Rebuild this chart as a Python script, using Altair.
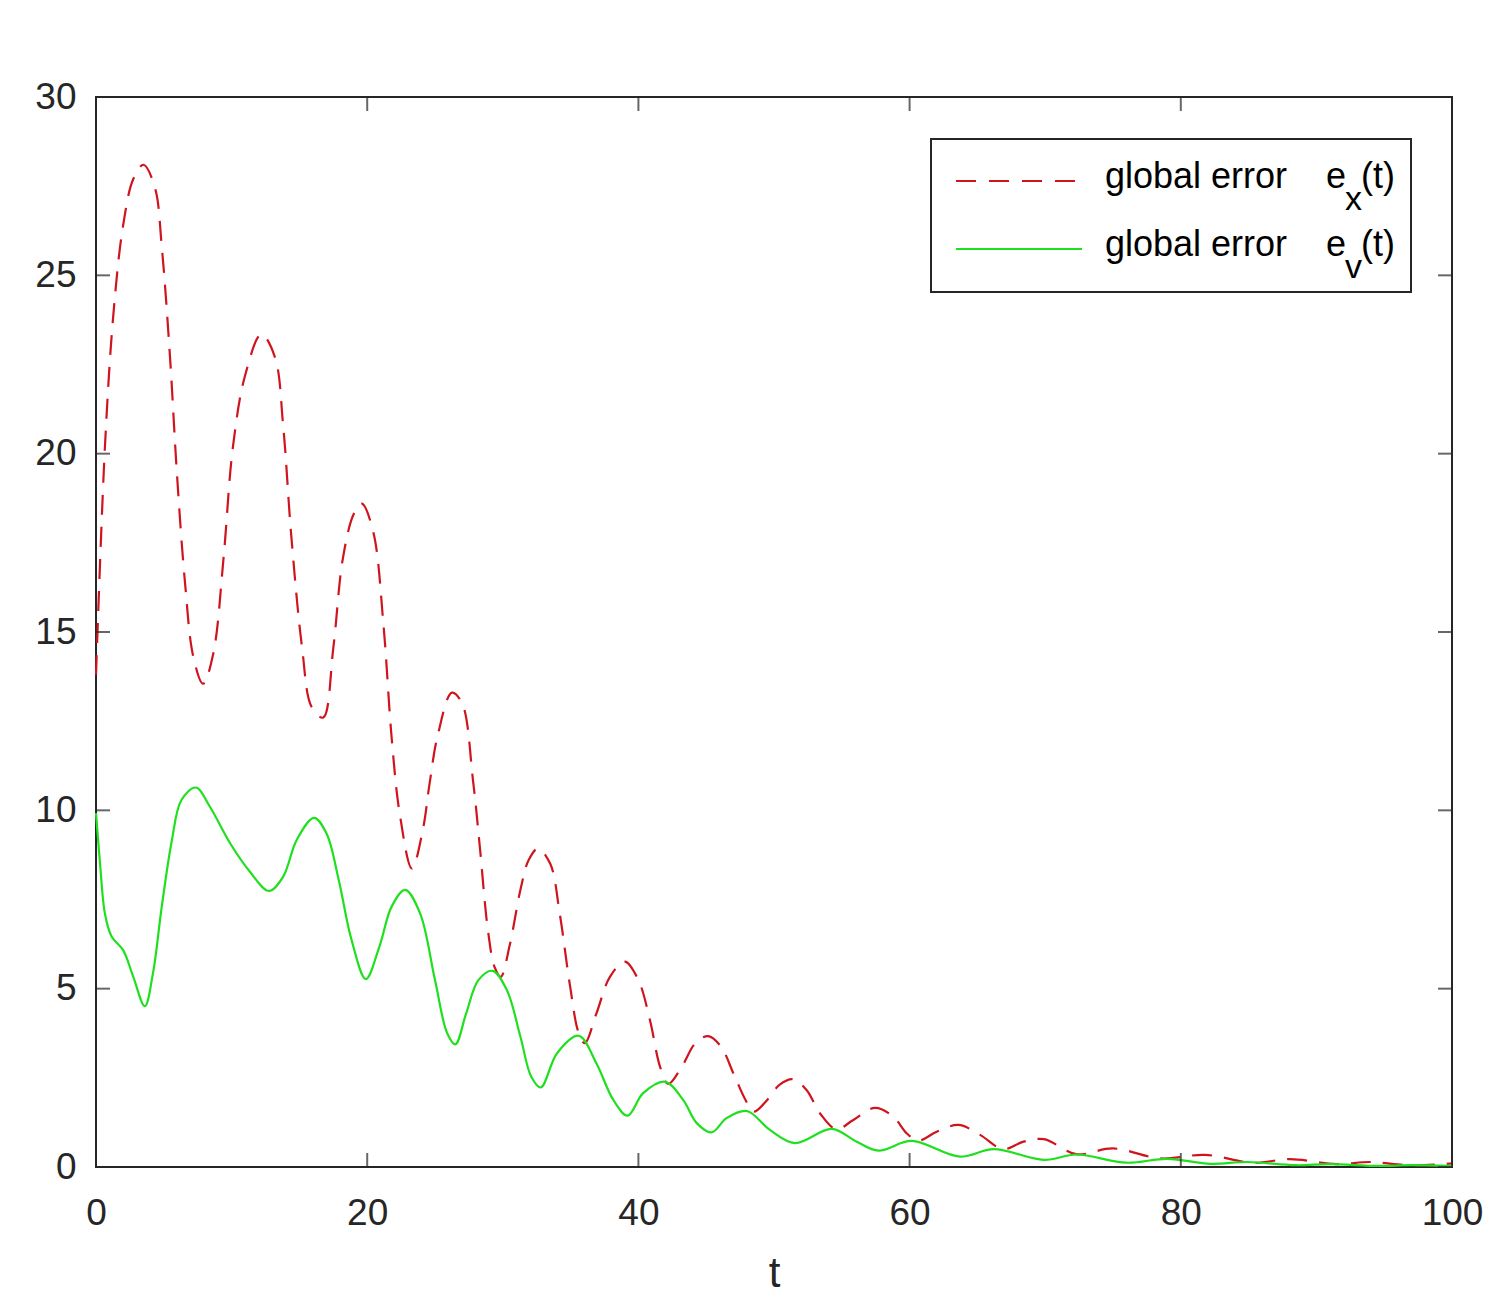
import altair as alt
import pandas as pd

# ---------------- data ----------------
T_X = [0, 0.66, 1.28, 2.0, 2.75, 3.5, 4.35, 4.85, 5.46, 5.95, 6.56, 7.18, 7.9, 8.65, 9.4, 10.1, 11.0,
       12.2, 13.2, 13.8, 14.4, 15.2, 15.9, 16.75, 17.5, 18.2, 19.0, 19.6, 20.45, 21.2, 21.8, 22.4,
       23.3, 24.1, 24.6, 25.2, 26.25, 27.0, 27.8, 28.3, 28.9, 29.4, 29.85, 30.5, 31.3, 31.9, 32.6,
       33.5, 34.2, 34.95, 35.6, 36.05, 36.9, 37.9, 39.0, 40.0, 40.85, 41.6, 42.2, 43.2, 44.2, 45.15,
       46.1, 47.0, 47.9, 48.5, 49.5, 50.4, 51.4, 52.4, 53.4, 54.6, 55.85, 57.45, 58.8, 59.8, 60.65,
       62.0, 63.6, 65.2, 66.9, 68.4, 69.9, 72.3, 75.0, 78.5, 81.8, 85.3, 88.05, 91.5, 93.95, 96.9, 100]
E_X = [13.8, 20.2, 23.9, 26.4, 27.7, 28.1, 27.45, 25.8, 22.7, 19.55, 16.4, 14.3, 13.55, 14.4, 17.05,
       20.2, 22.2, 23.35, 22.7, 20.8, 17.7, 14.55, 12.9, 12.6, 14.55, 17.05, 18.3, 18.6, 17.8, 15.2,
       12.05, 9.9, 8.37, 9.45, 10.75, 12.1, 13.3, 13.0, 10.85, 9.0, 6.65, 5.6, 5.33, 6.2, 7.77, 8.6,
       8.93, 8.5, 7.1, 5.1, 3.75, 3.47, 4.3, 5.33, 5.76, 5.24, 4.12, 2.81, 2.33, 2.81, 3.47, 3.67,
       3.37, 2.63, 1.88, 1.55, 1.88, 2.3, 2.46, 2.16, 1.5, 1.06, 1.32, 1.66, 1.41, 0.94, 0.74, 0.99,
       1.18, 0.9, 0.5, 0.71, 0.78, 0.36, 0.52, 0.24, 0.34, 0.12, 0.22, 0.08, 0.14, 0.05, 0.1]

T_V = [0, 0.3, 0.66, 1.15, 2.0, 2.75, 3.6, 4.2, 4.85, 5.6, 6.3, 7.37, 8.4, 9.9, 11.35, 12.76, 13.8,
       14.8, 16.08, 17.0, 17.9, 18.85, 19.9, 20.9, 21.8, 22.8, 23.9, 25.0, 25.9, 26.5, 27.3, 28.2,
       29.25, 30.3, 31.3, 32.1, 32.8, 34.0, 35.6, 36.9, 38.15, 39.2, 40.35, 41.96, 43.3, 44.3, 45.4,
       46.5, 48.0, 49.7, 51.55, 54.25, 56.1, 57.7, 60.15, 63.7, 66.2, 69.9, 72.3, 76.0, 79.0, 82.2,
       84.9, 88.5, 91.0, 94.5, 97.0, 100]
E_V = [9.92, 8.5, 7.1, 6.46, 6.08, 5.33, 4.51, 5.43, 7.3, 9.17, 10.29, 10.64, 10.1, 9.07, 8.28, 7.74,
       8.14, 9.17, 9.79, 9.35, 8.05, 6.36, 5.27, 6.18, 7.3, 7.77, 7.11, 5.24, 3.75, 3.44, 4.31, 5.24,
       5.5, 4.96, 3.65, 2.53, 2.23, 3.19, 3.68, 2.91, 1.88, 1.44, 2.07, 2.39, 1.88, 1.23, 0.97, 1.37,
       1.57, 1.04, 0.67, 1.07, 0.71, 0.46, 0.73, 0.29, 0.5, 0.2, 0.35, 0.12, 0.23, 0.09, 0.14, 0.05,
       0.08, 0.03, 0.05, 0.03]

X_TICKS = [0, 20, 40, 60, 80, 100]
Y_TICKS = [0, 5, 10, 15, 20, 25, 30]
LEGEND_MAIN = ["global error", "global error"]
LEGEND_SUB = ["x", "v"]
X_TITLE = "t"

RED = "#D0141E"
GREEN = "#1FE01F"
INK = "#262626"
FONT = "Liberation Sans, Arial, Helvetica, sans-serif"

W, H = 1356, 1070

ex = pd.DataFrame({"t": T_X, "v": E_X})
ev = pd.DataFrame({"t": T_V, "v": E_V})
xt = pd.DataFrame({"t": X_TICKS})
yt = pd.DataFrame({"v": Y_TICKS})

xscale = alt.Scale(domain=[0, 100], nice=False, zero=False)
yscale = alt.Scale(domain=[0, 30], nice=False, zero=False)

xaxis = alt.Axis(values=X_TICKS, ticks=False, domain=False, grid=False, labelFontSize=37,
                 labelFont=FONT, labelColor=INK, labelPadding=28, title=X_TITLE,
                 titleFont=FONT, titleFontSize=42, titleFontWeight="normal", titleColor=INK,
                 titlePadding=22, labelFlush=False)
yaxis = alt.Axis(values=Y_TICKS, ticks=False, domain=False, grid=False, labelFontSize=37,
                 labelFont=FONT, labelColor=INK, labelPadding=20, title=None)

line_x = alt.Chart(ex).mark_line(color=RED, strokeWidth=2.2, strokeDash=[20, 12],
                                 interpolate="catmull-rom").encode(
    x=alt.X("t:Q", scale=xscale, axis=xaxis),
    y=alt.Y("v:Q", scale=yscale, axis=yaxis),
)
line_v = alt.Chart(ev).mark_line(color=GREEN, strokeWidth=2.2, interpolate="catmull-rom").encode(
    x=alt.X("t:Q", scale=xscale),
    y=alt.Y("v:Q", scale=yscale),
)

TL = 14
tick_style = dict(color=INK, thickness=2, size=TL)
yt_left = alt.Chart(yt).mark_tick(orient="horizontal", **tick_style).encode(
    y=alt.Y("v:Q", scale=yscale), x=alt.value(TL / 2))
yt_right = alt.Chart(yt).mark_tick(orient="horizontal", **tick_style).encode(
    y=alt.Y("v:Q", scale=yscale), x=alt.value(W - TL / 2))
xt_bottom = alt.Chart(xt).mark_tick(orient="vertical", **tick_style).encode(
    x=alt.X("t:Q", scale=xscale), y=alt.value(H - TL / 2))
xt_top = alt.Chart(xt).mark_tick(orient="vertical", **tick_style).encode(
    x=alt.X("t:Q", scale=xscale), y=alt.value(TL / 2))

# ---------------- legend ----------------
one = pd.DataFrame({"k": [0]})
box = alt.Chart(one).mark_rect(fill="white", stroke=INK, strokeWidth=2).encode(
    x=alt.value(835), x2=alt.value(1315), y=alt.value(42), y2=alt.value(195))

row_base = [91, 159]
line_y = [84, 152]
legend_layers = [box]
legend_layers.append(alt.Chart(one).mark_rule(color=RED, strokeWidth=2.2, strokeDash=[20, 13]).encode(
    x=alt.value(860), x2=alt.value(981), y=alt.value(line_y[0])))
legend_layers.append(alt.Chart(one).mark_rule(color=GREEN, strokeWidth=2.2).encode(
    x=alt.value(860), x2=alt.value(986), y=alt.value(line_y[1])))
for i in range(2):
    d = pd.DataFrame({"main": [LEGEND_MAIN[i]], "e": ["e"], "sub": [LEGEND_SUB[i]], "arg": ["(t)"]})
    base = alt.Chart(d)
    legend_layers.append(base.mark_text(align="left", baseline="alphabetic", font=FONT,
                                        fontSize=36, color="black").encode(
        text="main:N", x=alt.value(1009), y=alt.value(row_base[i])))
    legend_layers.append(base.mark_text(align="left", baseline="alphabetic", font=FONT,
                                        fontSize=36, color="black").encode(
        text="e:N", x=alt.value(1230), y=alt.value(row_base[i])))
    legend_layers.append(base.mark_text(align="left", baseline="alphabetic", font=FONT,
                                        fontSize=34, color="black").encode(
        text="sub:N", x=alt.value(1249), y=alt.value(row_base[i] + 22)))
    legend_layers.append(base.mark_text(align="left", baseline="alphabetic", font=FONT,
                                        fontSize=36, color="black").encode(
        text="arg:N", x=alt.value(1265), y=alt.value(row_base[i])))

chart = alt.layer(line_x, line_v, yt_left, yt_right, xt_bottom, xt_top, *legend_layers).properties(
    width=W, height=H,
    autosize=alt.AutoSizeParams(type="none"),
    padding={"left": 88, "top": 89, "right": 47, "bottom": 138},
    background="white",
).configure_view(stroke=INK, strokeWidth=2)

chart.save("out.html", embed_options={"renderer": "svg", "actions": False})
